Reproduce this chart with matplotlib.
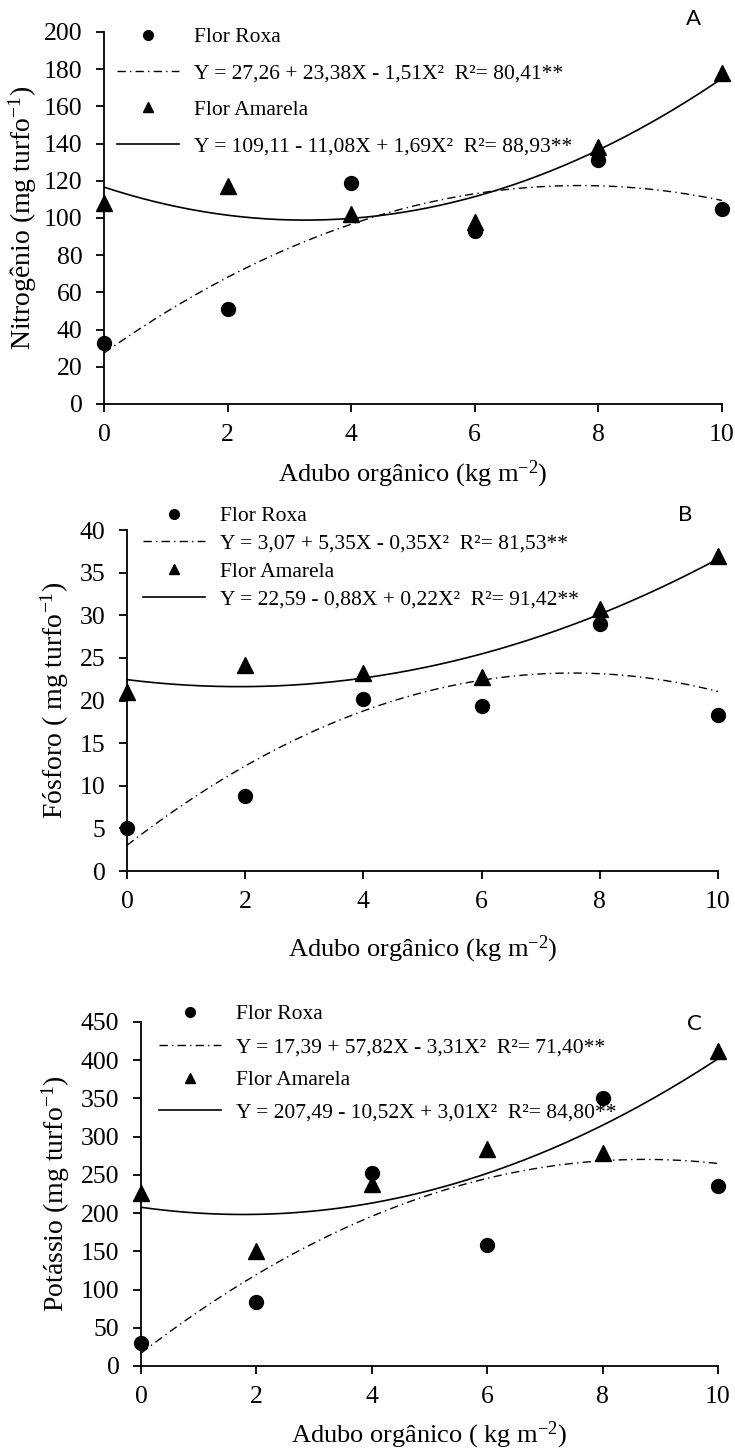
import numpy as np
import matplotlib
matplotlib.use('Agg')
import matplotlib.pyplot as plt
from matplotlib.lines import Line2D

plt.rcParams['font.family'] = ['Liberation Serif', 'DejaVu Serif']
plt.rcParams['mathtext.fontset'] = 'custom'
plt.rcParams['mathtext.rm'] = 'Liberation Serif'
plt.rcParams['mathtext.default'] = 'regular'

# doses de adubo
doses = [0, 2, 4, 6, 8, 10]

# Nitrogênio
n_roxa = [33, 51, 119, 93, 131, 105]
n_amarela = [108, 117, 102, 98, 138, 178]
# Fósforo
p_roxa = [5, 8.8, 20.2, 19.4, 29, 18.3]
p_amarela = [21, 24.2, 23.2, 22.8, 30.7, 37]
# Potássio
k_roxa = [30, 84, 252, 158, 351, 236]
k_amarela = [226, 150, 238, 284, 278, 412]

eq_n = ['Y = 27,26 + 23,38X - 1,51X²  R²= 80,41**',
        'Y = 109,11 - 11,08X + 1,69X²  R²= 88,93**']
eq_p = ['Y = 3,07 + 5,35X - 0,35X²  R²= 81,53**',
        'Y = 22,59 - 0,88X + 0,22X²  R²= 91,42**']
eq_k = ['Y = 17,39 + 57,82X - 3,31X²  R²= 71,40**',
        'Y = 207,49 - 10,52X + 3,01X²  R²= 84,80**']

W, H = 735, 1450
fig = plt.figure(figsize=(W/100, H/100), dpi=100)

# posições em pixels: [esquerda, topo, direita, base]
paineis = [
    dict(rect=[104, 32, 722, 404], roxa=n_roxa, amarela=n_amarela, eqs=eq_n,
         ylab='Nitrogênio (mg turfo$^{-1}$)', xlab='Adubo orgânico (kg m$^{-2}$)',
         ymax=200, passo=20, letra='A', pl=(694, 19),
         leg=(117, 27), esp=0.76, yl=-0.105, xl=-0.148),
    dict(rect=[127, 530, 718, 871], roxa=p_roxa, amarela=p_amarela, eqs=eq_p,
         ylab='Fósforo ( mg turfo$^{-1}$)', xlab='Adubo orgânico (kg m$^{-2}$)',
         ymax=40, passo=5, letra='B', pl=(685, 515),
         leg=(143, 506), esp=0.36, yl=-0.095, xl=-0.185),
    dict(rect=[141, 1022, 718, 1366], roxa=k_roxa, amarela=k_amarela, eqs=eq_k,
         ylab='Potássio (mg turfo$^{-1}$)', xlab='Adubo orgânico ( kg m$^{-2}$)',
         ymax=450, passo=50, letra='C', pl=(694, 1024),
         leg=(159, 1004), esp=0.60, yl=-0.12, xl=-0.155),
]

tracejado = (0, (6, 3, 1, 3))

for p in paineis:
    x0, y0, x1, y1 = p['rect']
    ax = fig.add_axes([x0/W, 1 - y1/H, (x1 - x0)/W, (y1 - y0)/H])
    xs = np.linspace(0, 10, 200)
    c1 = np.polyfit(doses, p['roxa'], 2)
    c2 = np.polyfit(doses, p['amarela'], 2)
    ax.plot(xs, np.polyval(c1, xs), color='black', lw=1, ls=tracejado)
    ax.plot(xs, np.polyval(c2, xs), color='black', lw=1.2)
    ax.plot(doses, p['roxa'], 'o', color='black', ms=10, clip_on=False, zorder=5)
    ax.plot(doses, p['amarela'], '^', color='black', ms=11, clip_on=False, zorder=5)

    ax.set_xlim(0, 10)
    ax.set_ylim(0, p['ymax'])
    ax.set_xticks(range(0, 11, 2))
    ax.set_yticks(np.arange(0, p['ymax'] + 1, p['passo']))
    for s in ['top', 'right']:
        ax.spines[s].set_visible(False)
    for s in ['left', 'bottom']:
        ax.spines[s].set_linewidth(1.3)
    ax.tick_params(labelsize=18.5, width=1.3, length=5.5, direction='out')
    ax.tick_params(axis='x', pad=9)
    ax.tick_params(axis='y', pad=10)
    ax.set_ylabel(p['ylab'], fontsize=20)
    ax.set_xlabel(p['xlab'], fontsize=19)
    ax.yaxis.set_label_coords(p['yl'], 0.5)
    ax.xaxis.set_label_coords(0.5, p['xl'])

    handles = [Line2D([], [], marker='o', ls='none', color='black', ms=7),
               Line2D([], [], color='black', lw=1, ls=tracejado),
               Line2D([], [], marker='^', ls='none', color='black', ms=7),
               Line2D([], [], color='black', lw=1.2)]
    labels = ['Flor Roxa', p['eqs'][0], 'Flor Amarela', p['eqs'][1]]
    fig.legend(handles, labels, loc='upper left', frameon=False, fontsize=15.5,
               bbox_to_anchor=(p['leg'][0]/W, 1 - p['leg'][1]/H),
               handlelength=2.9, handletextpad=0.7, labelspacing=p['esp'],
               borderpad=0, borderaxespad=0)
    fig.text(p['pl'][0]/W, 1 - p['pl'][1]/H, p['letra'], fontsize=16,
             family='Lato', ha='center', va='center')

fig.savefig('out.png', dpi=100)
